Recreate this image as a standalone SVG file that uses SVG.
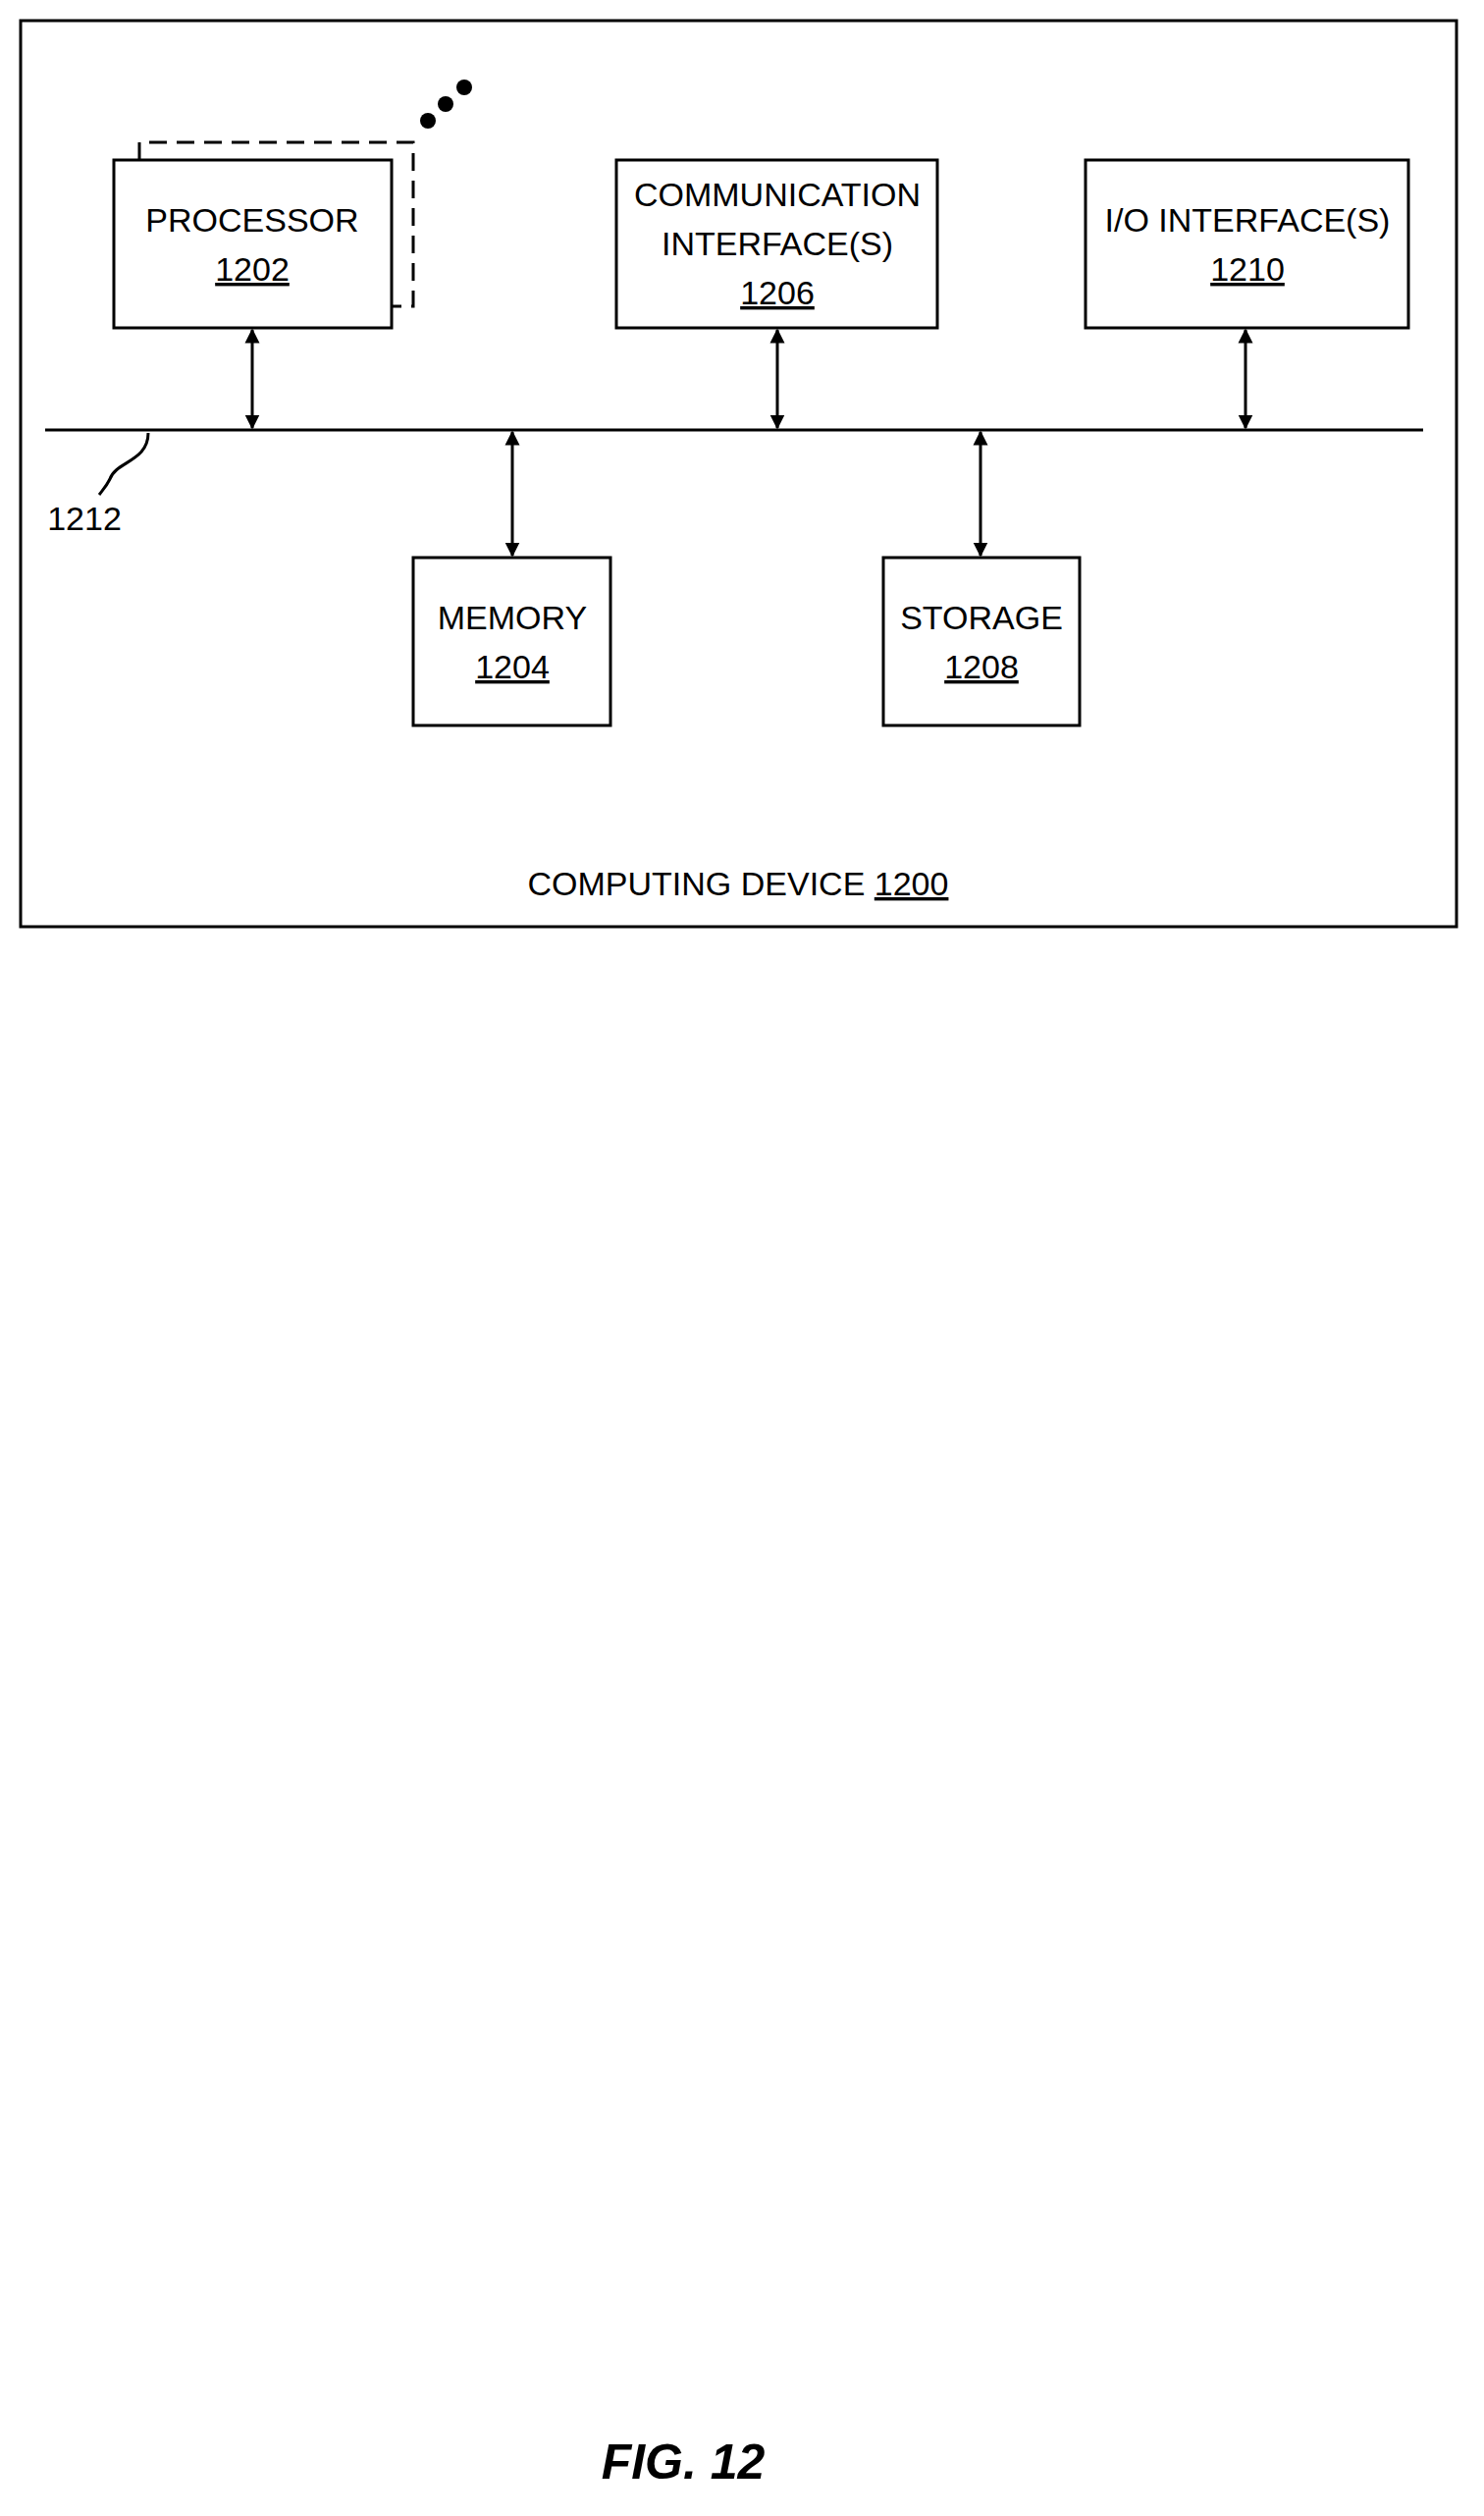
<svg xmlns="http://www.w3.org/2000/svg" width="1512" height="2563" viewBox="0 0 1512 2563">
<style>
.b{fill:#fff;stroke:#000;stroke-width:3}
.t{font-family:"Liberation Sans",Arial,sans-serif;font-size:34px;text-anchor:middle;fill:#000}
.u{text-decoration:underline}
.c{stroke:#000;stroke-width:3;fill:none}
</style>
<defs>
<marker id="a" viewBox="0 0 10 10" refX="9" refY="5" markerWidth="5" markerHeight="7" orient="auto-start-reverse" markerUnits="strokeWidth"><path d="M0,0L10,5L0,10z" fill="#000"/></marker>
</defs>
<rect width="1512" height="2563" fill="#fff"/>
<rect id="device" x="21" y="21" width="1463" height="923" class="b"/>
<g id="processor">
<path d="M142,163V145H421V312H399" class="c" stroke-dasharray="18,10"/>
<circle cx="436" cy="123" r="8"/><circle cx="454" cy="106" r="8"/><circle cx="473" cy="89" r="8"/>
<rect x="116" y="163" width="283" height="171" class="b"/>
<text x="257" y="236" class="t">PROCESSOR</text><text x="257" y="286" class="t u">1202</text>
</g>
<g id="comm">
<rect x="628" y="163" width="327" height="171" class="b"/>
<text x="792" y="210" class="t">COMMUNICATION</text><text x="792" y="260" class="t">INTERFACE(S)</text><text x="792" y="310" class="t u">1206</text>
</g>
<g id="io">
<rect x="1106" y="163" width="329" height="171" class="b"/>
<text x="1271" y="236" class="t">I/O INTERFACE(S)</text><text x="1271" y="286" class="t u">1210</text>
</g>
<g id="memory">
<rect x="421" y="568" width="201" height="171" class="b"/>
<text x="522" y="641" class="t">MEMORY</text><text x="522" y="691" class="t u">1204</text>
</g>
<g id="storage">
<rect x="900" y="568" width="200" height="171" class="b"/>
<text x="1000" y="641" class="t">STORAGE</text><text x="1000" y="691" class="t u">1208</text>
</g>
<g id="bus">
<line x1="46" y1="438" x2="1450" y2="438" class="c"/>
<path d="M151,441C151,470 118,470 112,488C108,496 104,500 101,504" class="c" stroke-width="2"/>
<text x="86" y="540" class="t">1212</text>
</g>
<g id="connectors">
<line x1="257" y1="336" x2="257" y2="436" class="c" marker-start="url(#a)" marker-end="url(#a)"/>
<line x1="792" y1="336" x2="792" y2="436" class="c" marker-start="url(#a)" marker-end="url(#a)"/>
<line x1="1269" y1="336" x2="1269" y2="436" class="c" marker-start="url(#a)" marker-end="url(#a)"/>
<line x1="522" y1="440" x2="522" y2="566" class="c" marker-start="url(#a)" marker-end="url(#a)"/>
<line x1="999" y1="440" x2="999" y2="566" class="c" marker-start="url(#a)" marker-end="url(#a)"/>
</g>
<text x="752" y="912" class="t">COMPUTING DEVICE <tspan class="u">1200</tspan></text>
<text x="696" y="2525" style="font-family:'Liberation Sans',Arial,sans-serif;font-size:50px;font-weight:bold;font-style:italic;text-anchor:middle">FIG. 12</text>
</svg>
